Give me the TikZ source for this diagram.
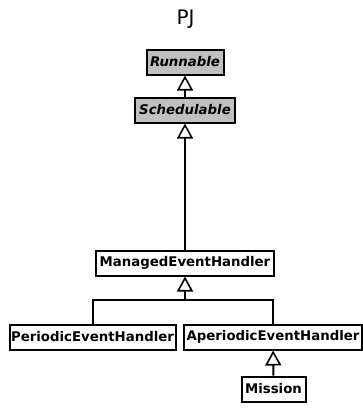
\documentclass[tikz,border=0pt]{standalone}
\usepackage{fontspec}
\setmainfont{DejaVu Sans}
\usepackage{tikz}
\usetikzlibrary{arrows.meta,positioning,calc}
\definecolor{IfaceGray}{RGB}{192,192,192}

\begin{document}
\begin{tikzpicture}[x=1pt, y=-1pt,
  cls/.style={draw, line width=2pt, minimum height=25pt, inner sep=0pt,
    font=\fontsize{13.3}{15}\selectfont\bfseries},
  iface/.style={cls, fill=IfaceGray, font=\fontsize{13.3}{15}\selectfont\bfseries\itshape},
  inherit/.style={line width=2pt, -{Triangle[open, length=15pt, width=16pt, line width=1.6pt]}}]
\useasboundingbox (0,0) rectangle (363,418);

% Title
\node[anchor=base] (title) at (185.5,24) {\fontsize{20}{24}\selectfont PJ};

% Interfaces
\node[iface, minimum width=77pt] (runnable) at (185,62) {Runnable};
\node[iface, minimum width=100pt] (schedulable) at (185,110) {Schedulable};

% Classes
\node[cls, minimum width=178pt] (managed) at (185,263) {ManagedEventHandler};
\node[cls, minimum width=166pt] (periodic) at (92.5,337) {PeriodicEventHandler};
\node[cls, minimum width=178pt] (aperiodic) at (273,337) {AperiodicEventHandler};
\node[cls, minimum width=64pt] (mission) at (273.5,389) {Mission};
\coordinate (join) at (185,300);

% Generalizations
\draw[inherit] (schedulable) -- (runnable);
\draw[inherit] (managed) -- (schedulable);
\draw[line width=2pt] (periodic) |- (join);
\draw[line width=2pt] (aperiodic) |- (join);
\draw[inherit] (join) -- (managed);
\draw[inherit] (mission) -- (aperiodic);
\end{tikzpicture}
\end{document}
